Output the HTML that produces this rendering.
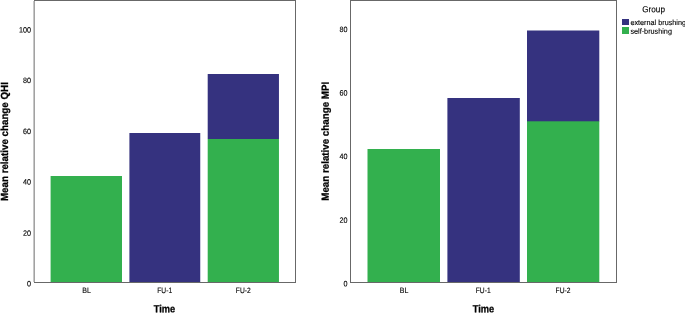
<!DOCTYPE html>
<html>
<head>
<meta charset="utf-8">
<title>Mean relative change</title>
<style>
html,body{margin:0;padding:0;background:#fff;}
body{width:685px;height:313px;overflow:hidden;}
svg{display:block;}
text{font-family:"Liberation Sans",Arial,sans-serif;fill:#000;}
.ln{fill:#686868;}
</style>
</head>
<body>
<svg width="685" height="313" viewBox="0 0 685 313">
<rect x="0" y="0" width="685" height="313" fill="#ffffff"/>
<rect x="50.6" y="176" width="71.4" height="106.5" fill="#33b04e"/>
<rect x="129.4" y="133" width="70.85" height="149.5" fill="#35327f"/>
<rect x="207.7" y="139" width="71.25" height="143.5" fill="#33b04e"/>
<rect x="207.7" y="74" width="71.25" height="65" fill="#35327f"/>
<rect class="ln" x="34" y="0" width="262" height="1"/>
<rect class="ln" x="34" y="282" width="262" height="1"/>
<rect class="ln" x="295" y="0" width="1" height="283"/>
<rect x="33.4" y="1" width="1.6" height="281" fill="#a2a2a2"/>
<text transform="translate(31,32.4) rotate(0.03) scale(0.925,1)" text-anchor="end" font-size="7.8" stroke="#000" stroke-width="0.12">100</text>
<text transform="translate(31,83.05) rotate(0.03) scale(0.925,1)" text-anchor="end" font-size="7.8" stroke="#000" stroke-width="0.12">80</text>
<text transform="translate(31,133.9) rotate(0.03) scale(0.925,1)" text-anchor="end" font-size="7.8" stroke="#000" stroke-width="0.12">60</text>
<text transform="translate(31,184.4) rotate(0.03) scale(0.925,1)" text-anchor="end" font-size="7.8" stroke="#000" stroke-width="0.12">40</text>
<text transform="translate(31,235.65) rotate(0.03) scale(0.925,1)" text-anchor="end" font-size="7.8" stroke="#000" stroke-width="0.12">20</text>
<text transform="translate(31,286.3) rotate(0.03) scale(0.925,1)" text-anchor="end" font-size="7.8" stroke="#000" stroke-width="0.12">0</text>
<text transform="translate(86.6,293.1) rotate(0.03) scale(0.9,1)" text-anchor="middle" font-size="7.8" stroke="#000" stroke-width="0.12">BL</text>
<text transform="translate(164.7,293.1) rotate(0.03) scale(0.86,1)" text-anchor="middle" font-size="7.8" stroke="#000" stroke-width="0.12">FU-1</text>
<text transform="translate(243.3,293.1) rotate(0.03) scale(0.86,1)" text-anchor="middle" font-size="7.8" stroke="#000" stroke-width="0.12">FU-2</text>
<text transform="translate(164.5,312.2) rotate(0.03) scale(0.9,1)" text-anchor="middle" font-size="10.3" font-weight="bold" stroke="#000" stroke-width="0.3">Time</text>
<text transform="translate(7.95,141.6) rotate(-89.97) scale(0.95,1)" text-anchor="middle" font-size="10.3" font-weight="bold" stroke="#000" stroke-width="0.3">Mean relative change QHI</text>
<rect x="367.5" y="149" width="72.5" height="133.5" fill="#33b04e"/>
<rect x="447.4" y="98" width="72.4" height="184.5" fill="#35327f"/>
<rect x="527" y="121" width="72.3" height="161.5" fill="#33b04e"/>
<rect x="527" y="30.5" width="72.3" height="90.8" fill="#35327f"/>
<rect class="ln" x="350" y="0" width="267" height="1"/>
<rect class="ln" x="350" y="282" width="267" height="1"/>
<rect class="ln" x="616" y="0" width="1" height="283"/>
<rect class="ln" x="350" y="0" width="1" height="283"/>
<text transform="translate(347.4,32.1) rotate(0.03) scale(0.925,1)" text-anchor="end" font-size="7.8" stroke="#000" stroke-width="0.12">80</text>
<text transform="translate(347.4,95.5) rotate(0.03) scale(0.925,1)" text-anchor="end" font-size="7.8" stroke="#000" stroke-width="0.12">60</text>
<text transform="translate(347.4,159.1) rotate(0.03) scale(0.925,1)" text-anchor="end" font-size="7.8" stroke="#000" stroke-width="0.12">40</text>
<text transform="translate(347.4,222.7) rotate(0.03) scale(0.925,1)" text-anchor="end" font-size="7.8" stroke="#000" stroke-width="0.12">20</text>
<text transform="translate(347.4,286.3) rotate(0.03) scale(0.925,1)" text-anchor="end" font-size="7.8" stroke="#000" stroke-width="0.12">0</text>
<text transform="translate(404.1,293.1) rotate(0.03) scale(0.9,1)" text-anchor="middle" font-size="7.8" stroke="#000" stroke-width="0.12">BL</text>
<text transform="translate(483.2,293.1) rotate(0.03) scale(0.86,1)" text-anchor="middle" font-size="7.8" stroke="#000" stroke-width="0.12">FU-1</text>
<text transform="translate(563,293.1) rotate(0.03) scale(0.86,1)" text-anchor="middle" font-size="7.8" stroke="#000" stroke-width="0.12">FU-2</text>
<text transform="translate(483.4,312.2) rotate(0.03) scale(0.9,1)" text-anchor="middle" font-size="10.3" font-weight="bold" stroke="#000" stroke-width="0.3">Time</text>
<text transform="translate(328.7,141.3) rotate(-89.97) scale(0.95,1)" text-anchor="middle" font-size="10.3" font-weight="bold" stroke="#000" stroke-width="0.3">Mean relative change MPI</text>
<text transform="translate(653.6,12.2) rotate(0.03) scale(0.93,1)" text-anchor="middle" font-size="8.8" stroke="#000" stroke-width="0.12">Group</text>
<rect x="622" y="19" width="7" height="6" fill="#35327f"/>
<rect x="622" y="27" width="7" height="7" fill="#33b04e"/>
<text transform="translate(630.4,24.95) rotate(0.03) scale(0.968,1)" text-anchor="start" font-size="7.5" stroke="#000" stroke-width="0.12">external brushing</text>
<text transform="translate(630.4,33.8) rotate(0.03) scale(0.968,1)" text-anchor="start" font-size="7.5" stroke="#000" stroke-width="0.12">self-brushing</text>
</svg>
</body>
</html>
